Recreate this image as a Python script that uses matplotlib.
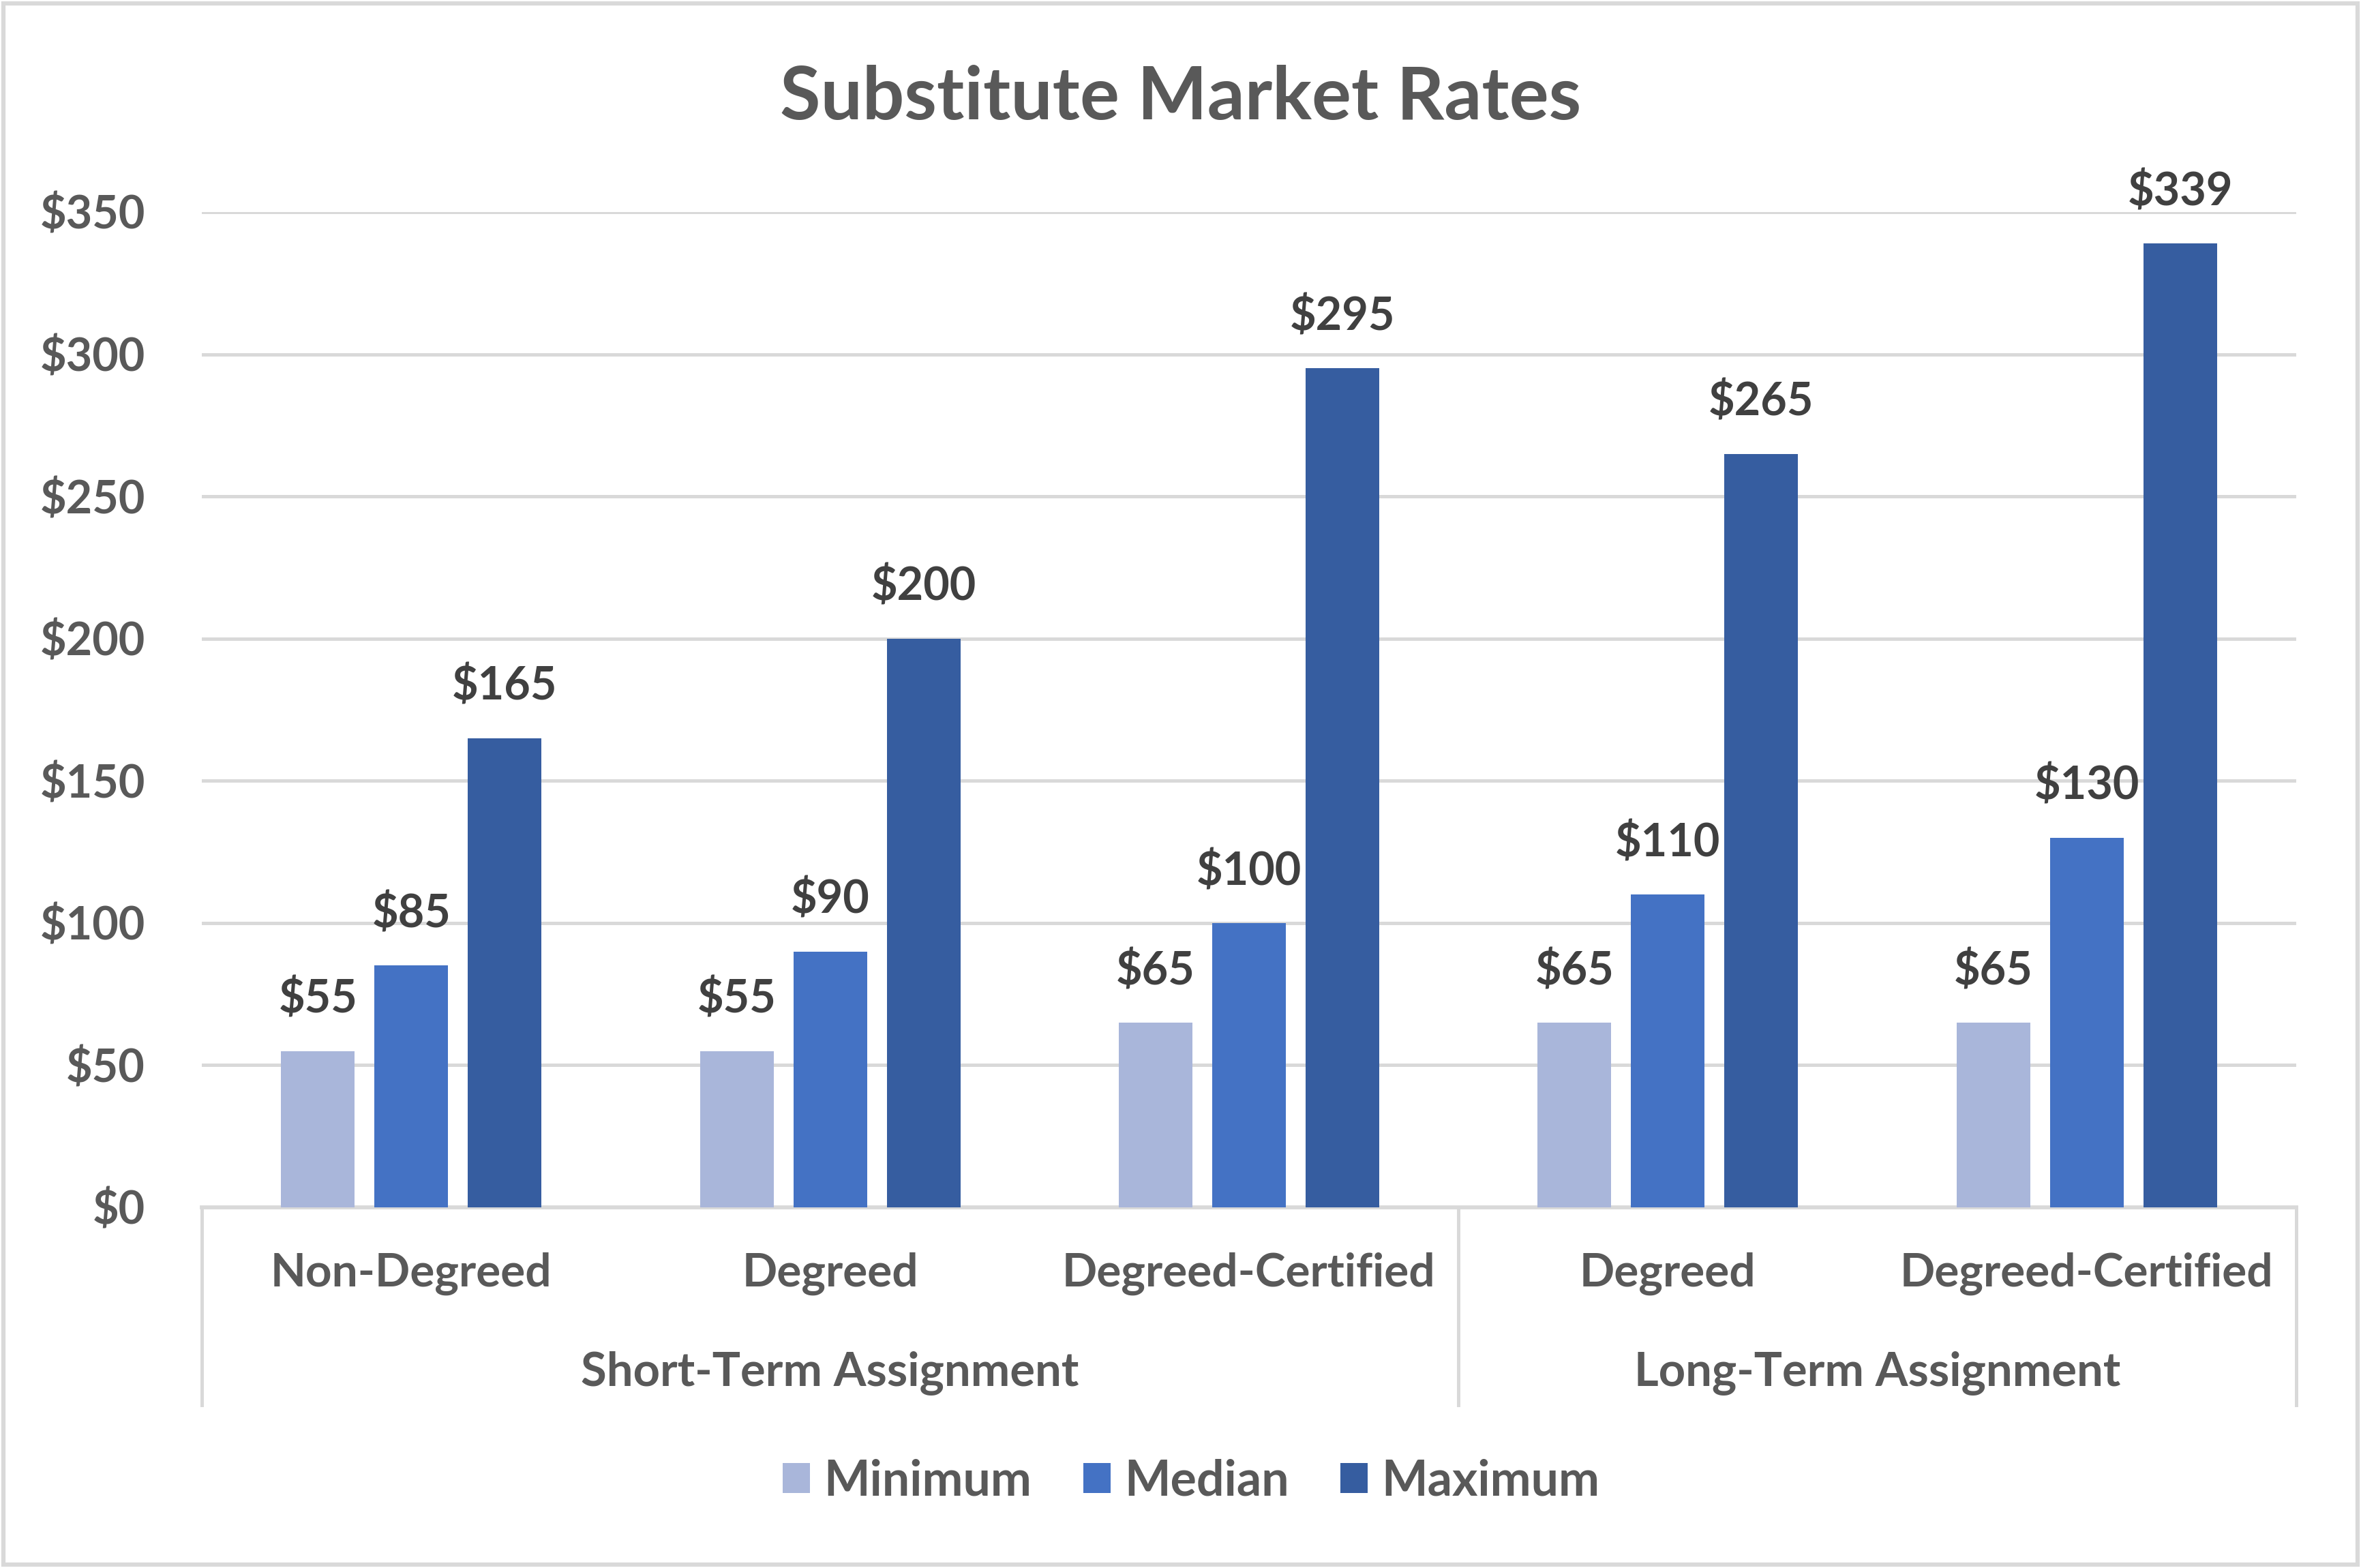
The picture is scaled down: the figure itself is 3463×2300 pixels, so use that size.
import matplotlib.pyplot as plt
import numpy as np
from matplotlib.patches import Rectangle, Patch
import matplotlib.transforms as mtransforms

# data
categories = ["Non-Degreed", "Degreed", "Degreed-Certified", "Degreed", "Degreed-Certified"]
groups = ["Short-Term Assignment", "Long-Term Assignment"]
group_sizes = [3, 2]
series = ["Minimum", "Median", "Maximum"]
minimum = [55, 55, 65, 65, 65]
median = [85, 90, 100, 110, 130]
maximum = [165, 200, 295, 265, 339]
yticks = [0, 50, 100, 150, 200, 250, 300, 350]

colors = ["#A9B6DA", "#4472C4", "#365DA0"]
text_col = "#595959"
label_col = "#404040"
grid_col = "#D9D9D9"

plt.rcParams['font.family'] = ['Lato', 'DejaVu Sans']
plt.rcParams['font.weight'] = 'bold'

fig = plt.figure(figsize=(3463 / 300, 2300 / 300), dpi=300)
ax = fig.add_axes([0.0855, 0.230, 0.8870, 0.6348])

x = np.arange(len(categories))
bar_w = 0.176
step = 0.223
values = [minimum, median, maximum]
for i, (name, vals) in enumerate(zip(series, values)):
    bars = ax.bar(x + (i - 1) * step, vals, width=bar_w, color=colors[i], label=name, zorder=3)
    for rect, v in zip(bars, vals):
        ax.annotate(f"${v}", (rect.get_x() + rect.get_width() / 2, v),
                    xytext=(0, 10.5), textcoords='offset points', ha='center', va='bottom',
                    fontsize=16, fontweight='bold', color=label_col, annotation_clip=False)

ax.set_xlim(-0.5, len(categories) - 0.5)
ax.set_ylim(0, 350)
ax.set_yticks(yticks)
ax.set_yticklabels([f"${t}" for t in yticks], fontsize=16, fontweight='bold', color=text_col)
ax.tick_params(axis='y', length=0, pad=20)
ax.set_xticks([])
ax.grid(True, axis='y', color=grid_col, linewidth=1.2, zorder=0)
for s in ['top', 'right', 'left']:
    ax.spines[s].set_visible(False)
ax.spines['bottom'].set_color(grid_col)
ax.spines['bottom'].set_linewidth(1.4)

trans = mtransforms.blended_transform_factory(ax.transData, ax.transAxes)
trans_fig = mtransforms.blended_transform_factory(ax.transData, fig.transFigure)

# category labels
for xi, cat in zip(x, categories):
    ax.text(xi, 0.1875, cat, transform=trans_fig, ha='center', va='center',
            fontsize=16.2, fontweight='bold', color=text_col)

# group labels and separators
start = 0
seps = [-0.5]
for g, n in zip(groups, group_sizes):
    mid = start + (n - 1) / 2
    ax.text(mid, 0.1240, g, transform=trans_fig, ha='center', va='center',
            fontsize=16.5, fontweight='bold', color=text_col)
    start += n
    seps.append(start - 0.5)
for sx in seps:
    ax.plot([sx, sx], [0, -0.1986], transform=trans, color=grid_col, linewidth=1.2, clip_on=False)

# title
fig.text(0.5, 0.9375, "Substitute Market Rates", ha='center', va='center',
         fontsize=26, fontweight='bold', color=text_col)

# legend
handles = [Patch(facecolor=c, edgecolor='none') for c in colors]
leg = fig.legend(handles, series, loc='center', bbox_to_anchor=(0.5045, 0.0552), ncol=3,
                 frameon=False, fontsize=17.2, handlelength=0.56, handleheight=0.56,
                 handletextpad=0.28, columnspacing=1.05)
for t in leg.get_texts():
    t.set_color(text_col)
    t.set_fontweight('bold')

# outer chart border
fig.patches.append(Rectangle((0.0015, 0.002), 0.997, 0.996, transform=fig.transFigure,
                             fill=False, edgecolor=grid_col, linewidth=1.5))

fig.savefig("out.png", dpi=300)
